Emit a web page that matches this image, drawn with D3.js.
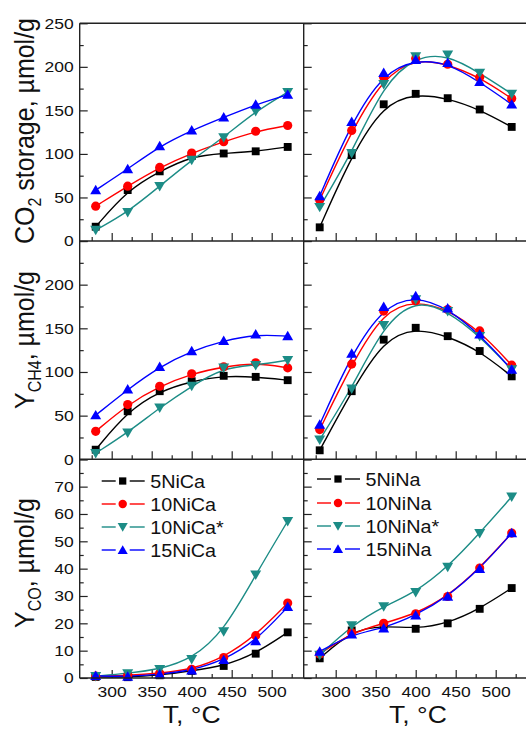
<!DOCTYPE html>
<html>
<head>
<meta charset="utf-8">
<script src="https://cdn.jsdelivr.net/npm/d3@7"></script>
<style>
  html, body { margin: 0; padding: 0; background: #fff; }
  svg { display: block; }
  text { font-family: "Liberation Sans", Arial, sans-serif; fill: #111; }
</style>
</head>
<body>
<svg id="chart" width="526" height="731"></svg>
<script>
// ---------------- data ----------------
const temps = [280, 320, 360, 400, 440, 480, 520];
const namesCa = ["5NiCa", "10NiCa", "10NiCa*", "15NiCa"];
const namesNa = ["5NiNa", "10NiNa", "10NiNa*", "15NiNa"];
const colors = ["#000000", "#ff0000", "#1c8c86", "#0000ff"];

// CO2 storage, µmol/g
const co2Ca5   = [16.4, 58.5, 80, 97.5, 100.5, 103, 108];
const co2Ca10  = [40, 63, 84.5, 101, 114, 126, 132.6];
const co2Ca10s = [12.6, 33, 63, 93, 119, 149, 171];
const co2Ca15  = [58.5, 82.6, 109, 127, 142, 156.7, 168];
const co2Na5   = [15.7, 98.6, 157, 169, 164, 151, 131];
const co2Na10  = [47, 127, 188, 209.5, 203, 188, 163.6];
const co2Na10s = [39, 101, 180, 212, 214, 193, 169];
const co2Na15  = [51.6, 136.8, 193, 208, 204.5, 182.7, 157];

// Y CH4, µmol/g
const ch4Ca5   = [11, 55, 78, 89.4, 95.6, 94.4, 90.6];
const ch4Ca10  = [32, 62.7, 83.7, 98, 106, 110.5, 104.7];
const ch4Ca10s = [7, 30.6, 59, 84, 105, 107.8, 113.5];
const ch4Ca15  = [50.5, 80, 106, 124, 135.7, 143, 141];
const ch4Na5   = [10.3, 78, 137, 150.6, 141, 124, 95];
const ch4Na10  = [34, 109, 169.7, 181.6, 171.6, 147, 107.8];
const ch4Na10s = [22.6, 81, 153.7, 183, 169.7, 141, 102.8];
const ch4Na15  = [39.8, 121, 174.7, 187, 172.8, 143, 102.8];

// Y CO, µmol/g
const coCa5   = [0.4, 0.3, 1, 2.6, 4.4, 8.9, 16.7];
const coCa10  = [0.7, 0.9, 1.7, 3.2, 7.5, 15.5, 27.4];
const coCa10s = [0.7, 1.7, 3.2, 6.9, 17, 37.8, 57.4];
const coCa15  = [0.8, 0.5, 1.3, 2.8, 6.6, 13.5, 26];
const coNa5   = [7.2, 17.4, 19.2, 18, 20, 25.3, 32.9];
const coNa10  = [8.8, 16.6, 20, 23.5, 29.8, 40.2, 53];
const coNa10s = [8.4, 19.2, 26.2, 31.4, 40.6, 53, 66.3];
const coNa15  = [9.7, 16, 18.2, 22.9, 29.8, 39.9, 53];

// tick values
const xMajor = [300, 350, 400, 450, 500];
const xMinor = [275, 325, 375, 425, 475, 525];
const yMajorUmol = [0, 50, 100, 150, 200, 250];
const yMinorUmol = [25, 75, 125, 175, 225];
const yMajorCO = [0, 10, 20, 30, 40, 50, 60, 70, 80];
const yMinorCO = [5, 15, 25, 35, 45, 55, 65, 75];

// ---------------- layout ----------------
const svg = d3.select("#chart");
const SX = 1.13; // horizontal glyph stretch seen in the reference
const colX = [[79.7, 303.7], [303.7, 527.7]];
const rowY = [[23.3, 241], [241, 459.3], [459.3, 678]];

const panels = [
  { row: 0, col: 0, series: [co2Ca5, co2Ca10, co2Ca10s, co2Ca15], dom: [0, 250], maj: yMajorUmol, min: yMinorUmol, labels: [0, 50, 100, 150, 200, 250] },
  { row: 0, col: 1, series: [co2Na5, co2Na10, co2Na10s, co2Na15], dom: [0, 250], maj: yMajorUmol, min: yMinorUmol, labels: null },
  { row: 1, col: 0, series: [ch4Ca5, ch4Ca10, ch4Ca10s, ch4Ca15], dom: [0, 250], maj: yMajorUmol, min: yMinorUmol, labels: [0, 50, 100, 150, 200] },
  { row: 1, col: 1, series: [ch4Na5, ch4Na10, ch4Na10s, ch4Na15], dom: [0, 250], maj: yMajorUmol, min: yMinorUmol, labels: null },
  { row: 2, col: 0, series: [coCa5, coCa10, coCa10s, coCa15], dom: [0, 80], maj: yMajorCO, min: yMinorCO, labels: [0, 10, 20, 30, 40, 50, 60, 70], legend: namesCa },
  { row: 2, col: 1, series: [coNa5, coNa10, coNa10s, coNa15], dom: [0, 80], maj: yMajorCO, min: yMinorCO, labels: null, legend: namesNa },
];

const symTypes = [d3.symbolSquare, d3.symbolCircle, d3.symbolTriangle, d3.symbolTriangle];
const symSizes = [62, 66, 52, 52];
const symRot = [0, 0, 180, 0];

function marker(g, i, x, y, scale) {
  const s = scale || 1;
  g.append("path")
    .attr("d", d3.symbol().type(symTypes[i]).size(symSizes[i] * s)())
    .attr("transform", `translate(${x},${y}) rotate(${symRot[i]})` + (i >= 2 ? " translate(0,1)" : ""))
    .attr("fill", colors[i]);
}

panels.forEach(p => {
  const x = d3.scaleLinear().domain([260, 540]).range(colX[p.col]);
  const y = d3.scaleLinear().domain(p.dom).range([rowY[p.row][1], rowY[p.row][0]]);
  const g = svg.append("g");
  const x0 = colX[p.col][0], yb = rowY[p.row][1];

  // bottom axis ticks (inward)
  const bx = g.append("g").attr("transform", `translate(0,${yb})`);
  bx.call(d3.axisBottom(x).tickValues(xMajor).tickSize(-8).tickPadding(8)
      .tickFormat(p.row === 2 ? d3.format("d") : () => ""));
  bx.append("g").call(d3.axisBottom(x).tickValues(xMinor).tickSize(-4).tickFormat(() => ""));
  // left axis ticks (inward)
  const ly = g.append("g").attr("transform", `translate(${x0},0)`);
  ly.call(d3.axisLeft(y).tickValues(p.maj).tickSize(-8).tickPadding(6)
      .tickFormat(v => (p.labels && p.labels.includes(v)) ? v : ""));
  ly.append("g").call(d3.axisLeft(y).tickValues(p.min).tickSize(-4).tickFormat(() => ""));

  g.selectAll(".domain").remove();
  g.selectAll(".tick line").attr("stroke", "#222").attr("stroke-width", 1.2);
  g.selectAll(".tick text").attr("font-size", 15.5).attr("fill", "#111")
    .attr("font-family", '"Liberation Sans", Arial, sans-serif');
  bx.selectAll(".tick text").each(function () {
    const t = d3.select(this); const yy = +t.attr("y");
    t.attr("y", 0).attr("transform", `translate(0,${yy}) scale(${SX},1)`);
  });
  ly.selectAll(".tick text").each(function () {
    const t = d3.select(this); const xx = +t.attr("x");
    t.attr("x", 0).attr("transform", `translate(${xx},0) scale(${SX},1)`);
  });

  // curves + markers
  const line = d3.line().x((d, i) => x(temps[i])).y(d => y(d)).curve(d3.curveBasis);
  p.series.forEach((vals, si) => {
    g.append("path").attr("d", line(vals)).attr("fill", "none")
      .attr("stroke", colors[si]).attr("stroke-width", 1.4);
  });
  p.series.forEach((vals, si) => {
    vals.forEach((v, i) => marker(g, si, x(temps[i]), y(v)));
  });

  // legend
  if (p.legend) {
    const lx = p.col === 0 ? 101.7 : 317;
    const ys = p.col === 0 ? [481, 504, 527, 550] : [479, 503, 526, 549];
    p.legend.forEach((name, i) => {
      const cy = ys[i];
      const mx = lx + 21;
      g.append("line").attr("x1", lx).attr("x2", mx - 7).attr("y1", cy).attr("y2", cy)
        .attr("stroke", colors[i]).attr("stroke-width", 1.4);
      g.append("line").attr("x1", mx + 7).attr("x2", mx + 22).attr("y1", cy).attr("y2", cy)
        .attr("stroke", colors[i]).attr("stroke-width", 1.4);
      marker(g, i, mx, cy, 0.85);
      g.append("text").attr("transform", `translate(${lx + 48.5},${cy + 6.5}) scale(1.13,1)`)
        .attr("font-size", 17.5).text(name);
    });
  }
});

// frame lines
const frame = svg.append("g").attr("stroke", "#222").attr("stroke-width", 1.4);
[23.3, 241, 459.3, 678].forEach(yy => frame.append("line").attr("x1", 79.7).attr("x2", 526).attr("y1", yy).attr("y2", yy));
[79.7, 303.7].forEach(xx => frame.append("line").attr("x1", xx).attr("x2", xx).attr("y1", 23.3).attr("y2", 678));

// axis titles
function xTitle(cx) {
  svg.append("text").attr("transform", `translate(${cx},723) scale(${SX},1)`)
    .attr("text-anchor", "middle").attr("font-size", 23.5).text("T, °C");
}
xTitle(191.7); xTitle(418);

function yTitle(cy, main, sub, rest) {
  const t = svg.append("text").attr("transform", `translate(34,${cy}) rotate(-90) scale(1,${SX})`)
    .attr("text-anchor", "middle").attr("font-size", 25);
  t.append("tspan").text(main);
  t.append("tspan").attr("font-size", 16).attr("dy", 6).text(sub);
  t.append("tspan").attr("dy", -6).text(rest);
}
yTitle(131, "CO", "2", " storage, µmol/g");
yTitle(340, "Y", "CH4", ", µmol/g");
yTitle(563, "Y", "CO", ", µmol/g");
</script>
</body>
</html>
